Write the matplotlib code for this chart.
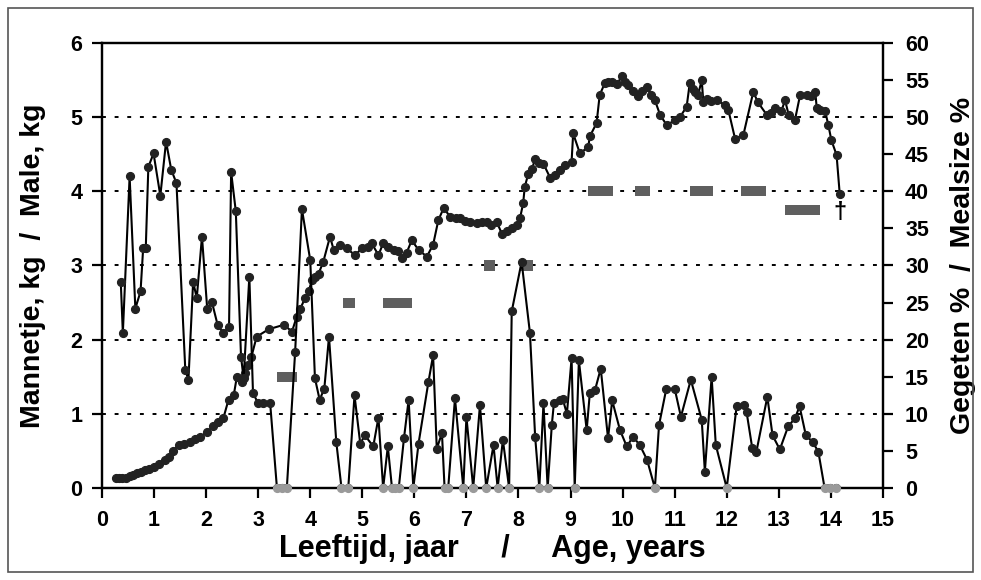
import matplotlib
matplotlib.use('Agg')
from matplotlib import pyplot as plt
from matplotlib.patches import Rectangle

plt.rcParams['font.family'] = ['Liberation Sans', 'DejaVu Sans']

# body weight of the male (kg)
age_w = [0.26, 0.32, 0.38, 0.46, 0.54, 0.6, 0.67, 0.75, 0.83, 0.91, 0.99, 1.09, 1.21, 1.28,
         1.37, 1.47, 1.58, 1.69, 1.79, 1.89, 2.02, 2.14, 2.22, 2.33, 2.43, 2.53, 2.59, 2.69,
         2.75, 2.81, 2.87, 2.97, 3.2, 3.49, 3.65, 3.74, 3.81, 3.9, 3.97, 4.03, 4.1, 4.16, 4.25,
         4.38, 4.45, 4.57, 4.7, 4.86, 4.99, 5.1, 5.18, 5.31, 5.4, 5.5, 5.6, 5.69, 5.76, 5.85,
         5.95, 6.08, 6.24, 6.36, 6.46, 6.56, 6.69, 6.8, 6.88, 6.98, 7.07, 7.2, 7.3, 7.39, 7.48,
         7.58, 7.68, 7.78, 7.87, 7.97, 8.03, 8.09, 8.12, 8.19, 8.26, 8.32, 8.4, 8.48, 8.61, 8.7,
         8.8, 8.9, 9.02, 9.05, 9.18, 9.34, 9.37, 9.5, 9.56, 9.66, 9.72, 9.79, 9.9, 9.98, 10.05,
         10.11, 10.2, 10.3, 10.38, 10.46, 10.55, 10.62, 10.72, 10.85, 11.0, 11.1, 11.23, 11.29,
         11.35, 11.39, 11.45, 11.52, 11.55, 11.62, 11.7, 11.81, 11.97, 12.03, 12.16, 12.32,
         12.51, 12.6, 12.77, 12.85, 12.93, 13.05, 13.12, 13.19, 13.31, 13.41, 13.54, 13.62,
         13.7, 13.73, 13.8, 13.89, 13.95, 14.01, 14.11, 14.17]
weight = [0.13, 0.13, 0.13, 0.14, 0.16, 0.18, 0.2, 0.22, 0.24, 0.26, 0.29, 0.33, 0.38, 0.42,
          0.5, 0.58, 0.6, 0.62, 0.66, 0.69, 0.76, 0.83, 0.89, 0.94, 1.19, 1.25, 1.5, 1.43,
          1.55, 1.66, 1.77, 2.04, 2.14, 2.2, 2.11, 2.31, 2.42, 2.56, 2.65, 2.8, 2.85, 2.89, 3.05,
          3.39, 3.21, 3.28, 3.23, 3.14, 3.23, 3.25, 3.3, 3.14, 3.3, 3.25, 3.21, 3.2, 3.1, 3.17,
          3.34, 3.21, 3.12, 3.28, 3.61, 3.77, 3.66, 3.64, 3.64, 3.6, 3.59, 3.57, 3.58, 3.59, 3.55,
          3.59, 3.43, 3.47, 3.5, 3.55, 3.64, 3.84, 4.06, 4.24, 4.3, 4.44, 4.38, 4.37, 4.18, 4.22,
          4.29, 4.35, 4.4, 4.78, 4.51, 4.6, 4.74, 4.92, 5.3, 5.46, 5.47, 5.48, 5.45, 5.55, 5.48,
          5.43, 5.35, 5.28, 5.35, 5.41, 5.3, 5.23, 5.03, 4.89, 4.96, 5.0, 5.14, 5.46,
          5.38, 5.34, 5.3, 5.5, 5.21, 5.25, 5.22, 5.23, 5.16, 5.1, 4.71, 4.76,
          5.34, 5.2, 5.03, 5.06, 5.12, 5.08, 5.23, 5.03, 4.96, 5.3, 5.3, 5.28,
          5.34, 5.12, 5.1, 5.08, 4.9, 4.69, 4.49, 3.97]

# meal size (% of body weight eaten)
age_m = [0.36, 0.40, 0.53, 0.64, 0.74, 0.79, 0.84, 0.89, 0.99, 1.12, 1.23, 1.33, 1.43, 1.6,
         1.66, 1.75, 1.82, 1.92, 2.02, 2.11, 2.22, 2.33, 2.44, 2.48, 2.57, 2.67, 2.72, 2.83,
         2.9, 3.0, 3.1, 3.23, 3.36, 3.45, 3.55, 3.71, 3.84, 4.0, 4.09, 4.18, 4.27, 4.36, 4.5,
         4.6, 4.73, 4.85, 4.96, 5.05, 5.21, 5.31, 5.4, 5.49, 5.57, 5.63, 5.7, 5.8, 5.89, 5.98,
         6.08, 6.27, 6.36, 6.43, 6.53, 6.58, 6.65, 6.78, 6.94, 7.0, 7.13, 7.26, 7.38, 7.52, 7.6,
         7.7, 7.82, 7.87, 8.06, 8.22, 8.32, 8.4, 8.48, 8.56, 8.64, 8.68, 8.79, 8.85, 8.93, 9.02,
         9.08, 9.16, 9.31, 9.37, 9.47, 9.58, 9.72, 9.8, 9.95, 10.08, 10.2, 10.33, 10.47, 10.62,
         10.7, 10.84, 11.0, 11.12, 11.31, 11.52, 11.58, 11.71, 11.79, 12.0, 12.19, 12.33, 12.38,
         12.49, 12.57, 12.78, 12.88, 13.02, 13.18, 13.31, 13.4, 13.52, 13.65, 13.76, 13.88,
         13.98, 14.1]
meal = [27.8, 20.9, 42.0, 24.2, 26.5, 32.3, 32.3, 43.3, 45.1, 39.4, 46.7, 42.9, 41.1, 15.9,
        14.6, 27.8, 25.6, 33.9, 24.2, 25.1, 22.0, 20.9, 21.7, 42.6, 37.3, 17.7, 14.8, 28.5,
        12.8, 11.4, 11.4, 11.4, 0, 0, 0, 18.4, 37.6, 30.7, 14.8, 11.9, 13.4, 20.4, 6.2,
        0, 0, 12.5, 6.0, 7.1, 5.6, 9.5, 0, 5.6, 0, 0, 0, 6.7, 11.9, 0,
        6.0, 14.3, 17.9, 5.3, 7.4, 0, 0, 12.1, 0, 9.6, 0, 11.2, 0, 5.8, 0,
        6.5, 0, 23.8, 30.5, 20.9, 6.9, 0, 11.4, 0, 8.5, 11.4, 11.9, 12.0, 10.0, 17.5,
        0, 17.2, 7.8, 12.8, 13.2, 16.1, 6.7, 11.8, 7.8, 5.6, 6.9, 5.8, 3.8, 0,
        8.5, 13.4, 13.4, 9.6, 14.6, 9.2, 2.2, 15.0, 5.8, 0, 11.0, 11.2, 10.3,
        5.4, 4.9, 12.3, 7.1, 5.2, 8.3, 9.4, 11.0, 7.1, 6.2, 4.9, 0,
        0, 0]

# grey period bars (start, end, level in %)
bar_start = [3.37, 4.63, 5.4, 7.34, 8.03, 9.33, 10.24, 11.29, 12.28, 13.12]
bar_end = [3.74, 4.85, 5.95, 7.55, 8.28, 9.82, 10.53, 11.73, 12.76, 13.79]
bar_level = [15, 25, 25, 30, 30, 40, 40, 40, 40, 37.5]

fig = plt.figure(figsize=(9.81, 5.80), dpi=100)
ax = fig.add_axes([0.104, 0.1586, 0.796, 0.7673])
ax2 = ax.twinx()

# frame round the whole figure
fig.patches.append(Rectangle((8 / 981, 8 / 580), 965 / 981, 564 / 580,
                             transform=fig.transFigure, fill=False,
                             edgecolor='#555555', linewidth=1.2))

# dotted grid lines
for y in [1, 2, 3, 4, 5]:
    ax.axhline(y, color='black', linewidth=1.4, linestyle=(0, (2, 4.5)), zorder=1)

ax.plot(age_w, weight, color='black', linewidth=1.5, marker='o', markersize=5.6,
        markerfacecolor='#222222', markeredgecolor='#222222', zorder=3)

ax2.barh(bar_level, [e - s for s, e in zip(bar_start, bar_end)], left=bar_start,
         height=1.35, color='#5f5f5f', zorder=2)
ax2.plot(age_m, meal, color='black', linewidth=1.5, marker='o', markersize=5.6,
         markerfacecolor='#222222', markeredgecolor='#222222', zorder=3)
zero_x = [a for a, m in zip(age_m, meal) if m == 0]
ax2.plot(zero_x, [0] * len(zero_x), linestyle='none', marker='o', markersize=5.6,
         color='#9a9a9a', zorder=4, clip_on=False)
ax2.text(14.17, 37.2, '\u2020', fontsize=17, fontweight='bold', ha='center', va='center')

ax.set_xlim(0, 15)
ax.set_ylim(0, 6)
ax2.set_ylim(0, 60)
ax.set_xticks(range(0, 16))
ax.set_yticks(range(0, 7))
ax2.set_yticks(range(0, 61, 5))

for a in (ax, ax2):
    for s in a.spines.values():
        s.set_linewidth(1.6)
    a.tick_params(direction='out', length=7, width=1.6, labelsize=15.5)
    for lbl in a.get_xticklabels() + a.get_yticklabels():
        lbl.set_fontweight('bold')
ax.tick_params(axis='x', pad=9)
ax.tick_params(axis='y', pad=7)
ax2.tick_params(axis='y', pad=9)

ax.set_xlabel('Leeftijd, jaar     /     Age, years', fontsize=22, fontweight='bold', labelpad=2)
ax.set_ylabel('Mannetje, kg  /  Male, kg', fontsize=20.5, fontweight='bold', labelpad=18)
ax2.set_ylabel('Gegeten %  /  Mealsize %', fontsize=20.5, fontweight='bold', labelpad=15)

fig.savefig('out.png', dpi=100)
